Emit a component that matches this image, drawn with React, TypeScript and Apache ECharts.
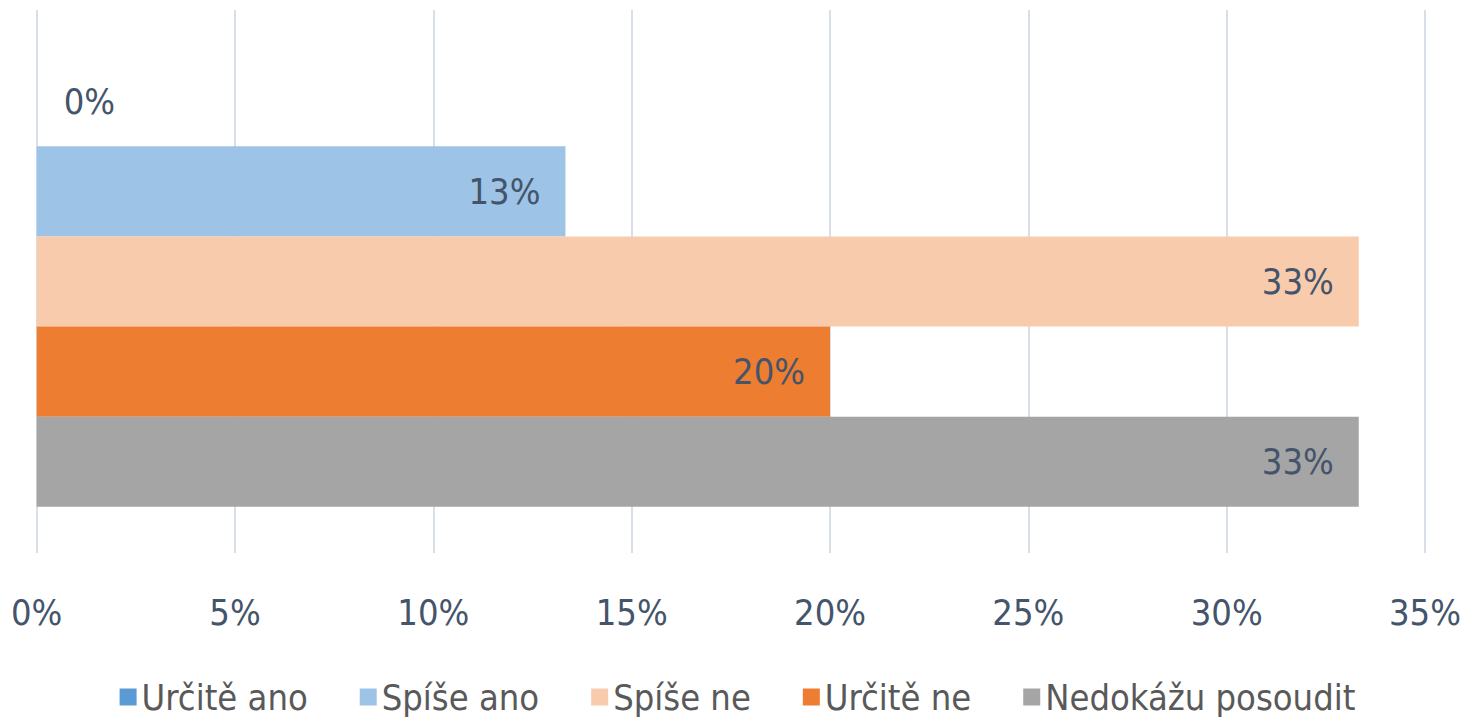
import React, { useEffect, useRef } from "react";
import * as echarts from "echarts";

const seriesNames = ["Určitě ano", "Spíše ano", "Spíše ne", "Určitě ne", "Nedokážu posoudit"];
const seriesValues = [0, 13.33, 33.33, 20, 33.33];
const seriesColors = ["#5B9BD5", "#9DC3E6", "#F8CBAD", "#ED7D31", "#A5A5A5"];
const categories = [""];
const xTicks = { min: 0, max: 35, interval: 5 };

const FONT = "'Liberation Sans Narrow', 'DejaVu Sans Condensed', 'Open Sans', sans-serif";

export default function App() {
  const ref = useRef<HTMLDivElement>(null);
  useEffect(() => {
    const chart = echarts.init(ref.current!, null, { renderer: "svg" });
    chart.setOption({
      animation: false,
      textStyle: { fontFamily: FONT },
      grid: { left: 27, right: 42, top: 2, bottom: 172, containLabel: false },
      legend: {
        top: 670,
        left: "center",
        padding: 0,
        itemWidth: 17,
        itemHeight: 17,
        itemGap: 52,
        icon: "rect",
        textStyle: { fontSize: 36, lineHeight: 38, color: "#595959", fontFamily: FONT },
        data: seriesNames,
      },
      xAxis: {
        type: "value",
        min: xTicks.min,
        max: xTicks.max,
        interval: xTicks.interval,
        axisLine: { show: false },
        axisTick: { show: false },
        splitLine: { show: true, lineStyle: { color: "#D9DFE8", width: 2 } },
        axisLabel: {
          formatter: (v: number) => `${v}%`,
          fontSize: 36,
          color: "#44546A",
          fontFamily: FONT,
          margin: 41,
        },
      },
      yAxis: {
        type: "category",
        data: categories,
        inverse: true,
        axisLine: { show: false },
        axisTick: { show: false },
        axisLabel: { show: false },
      },
      series: seriesNames.map((name, i) => ({
        name,
        type: "bar",
        barGap: "0%",
        barCategoryGap: "17%",
        itemStyle: { color: seriesColors[i] },
        label: {
          show: true,
          position: seriesValues[i] === 0 ? "right" : "insideRight",
          distance: seriesValues[i] === 0 ? 27 : 25,
          formatter: (p: any) => `${Math.round(p.value)}%`,
          fontSize: 36,
          color: "#44546A",
          fontFamily: FONT,
        },
        data: [seriesValues[i]],
      })),
    });
    return () => chart.dispose();
  }, []);
  return <div ref={ref} style={{ width: 1459, height: 717 }} />;
}
